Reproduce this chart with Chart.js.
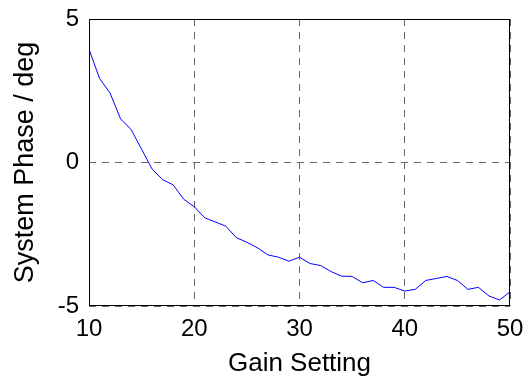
<!DOCTYPE html>
<html>
<head>
<meta charset="utf-8">
<script src="https://cdn.jsdelivr.net/npm/chart.js@4/dist/chart.umd.min.js"></script>
<style>
  html, body { margin: 0; padding: 0; background: #fff; }
  canvas { display: block; }
</style>
</head>
<body>
<canvas id="phaseChart" width="526" height="381"></canvas>
<script>
// gain setting vs measured system phase
const gain = [10, 11, 12, 13, 14, 15, 16, 17, 18, 19,
              20, 21, 22, 23, 24, 25, 26, 27, 28, 29,
              30, 31, 32, 33, 34, 35, 36, 37, 38, 39,
              40, 41, 42, 43, 44, 45, 46, 47, 48, 49, 50];
const phase = [3.95, 2.93, 2.42, 1.52, 1.15, 0.46, -0.23, -0.6, -0.78, -1.28,
               -1.54, -1.93, -2.07, -2.22, -2.62, -2.78, -2.97, -3.22, -3.30, -3.44,
               -3.30, -3.52, -3.59, -3.80, -3.96, -3.97, -4.19, -4.11, -4.35, -4.35,
               -4.48, -4.42, -4.11, -4.04, -3.97, -4.11, -4.42, -4.35, -4.65, -4.79, -4.51];
const xTicks = [10, 20, 30, 40, 50];
const yTicks = [-5, 0, 5];

const font = 'Liberation Sans, Arial, Helvetica, sans-serif';

// black box round the plot area
const frame = {
    id: 'frame',
    afterDraw(chart) {
        const a = chart.chartArea;
        const ctx = chart.ctx;
        ctx.save();
        ctx.strokeStyle = '#000';
        ctx.lineWidth = 1;
        ctx.strokeRect(Math.round(a.left) + 0.5, Math.round(a.top) + 0.5,
                       Math.round(a.right - a.left) - 1, Math.round(a.bottom - a.top) - 1);
        ctx.restore();
    }
};

// fixed axis sizes, and no extra room for the end labels
function fixSize(axis, w, h) {
    if (w) axis.width = w;
    if (h) axis.height = h;
    axis.paddingLeft = axis.paddingRight = 0;
    axis.paddingTop = axis.paddingBottom = 0;
}

const ctx = document.getElementById('phaseChart');

const myChart = new Chart(ctx, {
    type: 'line',
    data: {
        datasets: [{
            data: gain.map((g, i) => ({x: g, y: phase[i]})),
            borderColor: '#0000ff',
            borderWidth: 1,
            pointRadius: 0,
            tension: 0,
            fill: false
        }]
    },
    plugins: [frame],
    options: {
        responsive: false,
        animation: false,
        events: [],
        layout: {
            padding: {left: 0, right: 16, top: 19, bottom: 0}
        },
        plugins: {
            legend: {display: false},
            tooltip: {enabled: false}
        },
        scales: {
            x: {
                type: 'linear',
                min: 10,
                max: 50,
                afterBuildTicks: axis => { axis.ticks = xTicks.map(v => ({value: v})); },
                afterFit: axis => fixSize(axis, 0, 75),
                grid: {color: '#666', lineWidth: 1, drawTicks: false},
                border: {display: false, dash: [7, 6]},
                ticks: {
                    color: '#000',
                    padding: 9,
                    maxRotation: 0,
                    font: {family: font, size: 24}
                },
                title: {
                    display: true,
                    text: 'Gain Setting',
                    color: '#000',
                    padding: {top: 0, bottom: 2},
                    font: {family: font, size: 26}
                }
            },
            y: {
                min: -5,
                max: 5,
                afterBuildTicks: axis => { axis.ticks = yTicks.map(v => ({value: v})); },
                afterFit: axis => fixSize(axis, 89, 0),
                grid: {color: '#666', lineWidth: 1, drawTicks: false},
                border: {display: false, dash: [7, 6]},
                ticks: {
                    color: '#000',
                    padding: 10,
                    font: {family: font, size: 24}
                },
                title: {
                    display: true,
                    text: 'System Phase / deg',
                    color: '#000',
                    padding: {top: 9, bottom: 0},
                    font: {family: font, size: 27}
                }
            }
        }
    }
});
</script>
</body>
</html>
